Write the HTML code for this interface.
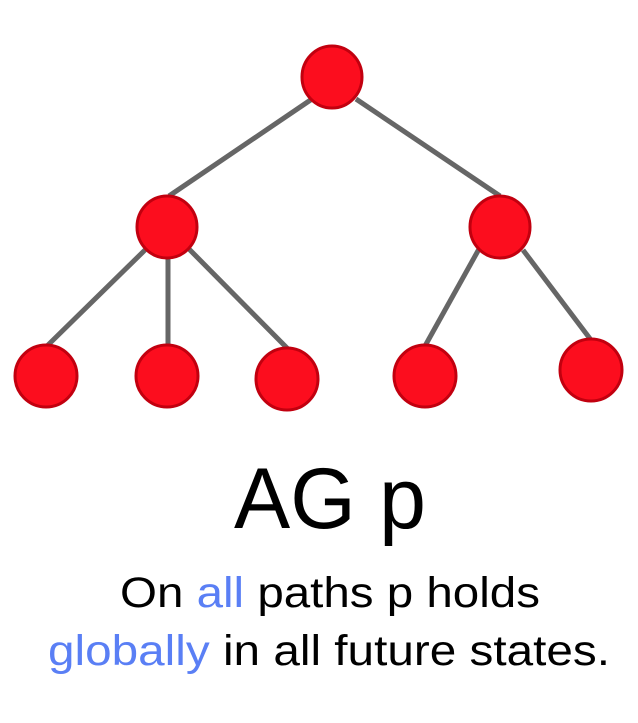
<!DOCTYPE html>
<html><head><style>html,body{margin:0;padding:0;background:#fff;}</style></head>
<body>
<svg width="638" height="718" xmlns="http://www.w3.org/2000/svg">
<g stroke="#666" stroke-width="5" stroke-linecap="butt">
<line x1="312" y1="99" x2="169" y2="196"/>
<line x1="356" y1="99" x2="500" y2="196"/>
<line x1="146" y1="249" x2="47" y2="346"/>
<line x1="168" y1="255" x2="168" y2="346"/>
<line x1="189" y1="249" x2="288" y2="349"/>
<line x1="479" y1="249" x2="425" y2="346"/>
<line x1="523" y1="250" x2="591" y2="340"/>
</g>
<g fill="#fc0d1e" stroke="#c2000f" stroke-width="3">
<ellipse cx="332" cy="77" rx="30" ry="31"/>
<ellipse cx="167" cy="227" rx="30" ry="31"/>
<ellipse cx="500" cy="227" rx="30" ry="31"/>
<ellipse cx="46" cy="376" rx="31" ry="31"/>
<ellipse cx="167" cy="376" rx="31" ry="31"/>
<ellipse cx="287" cy="379" rx="31" ry="31"/>
<ellipse cx="425" cy="376" rx="31" ry="31"/>
<ellipse cx="591" cy="370" rx="31" ry="31"/>
</g>
<g font-family="Liberation Sans, Arial, sans-serif" text-anchor="middle" fill="#000">
<text x="330" y="528" font-size="86" textLength="192" lengthAdjust="spacingAndGlyphs">AG p</text>
<text x="330" y="607" font-size="43" textLength="420" lengthAdjust="spacingAndGlyphs">On <tspan fill="#5a7ff5">all</tspan> paths p holds</text>
<text x="329" y="665" font-size="43" textLength="562" lengthAdjust="spacingAndGlyphs"><tspan fill="#5a7ff5">globally</tspan> in all future states.</text>
</g>
</svg>
</body></html>
